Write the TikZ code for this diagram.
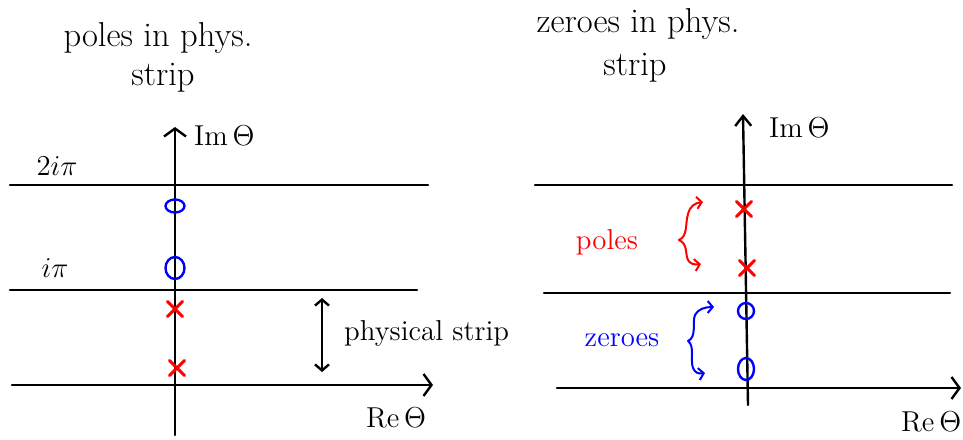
\documentclass[tikz,border=0pt]{standalone}
\usepackage{tikz}
\usetikzlibrary{arrows.meta,shapes.geometric,shapes.misc,positioning}

\begin{document}
\begin{tikzpicture}[x=0.5pt,y=-0.5pt,line width=1.2pt,line cap=round,line join=round,
  axtip/.style={-{Straight Barb[length=4pt,width=11pt,line width=1.2pt]}},
  pole/.style={draw=red,cross out,line width=1.5pt,minimum size=6pt,inner sep=0pt},
  zero/.style={draw=blue,ellipse,line width=1.2pt,inner sep=0pt},
  lbl/.style={inner sep=0pt,font=\Large}]
\useasboundingbox (0,0) rectangle (963,439);
% titles
\node[lbl,font=\LARGE] (ttlL)  at (158,38) {poles in phys.};
\node[lbl,font=\LARGE] (ttlLs) at (163,78) {strip};
\node[lbl,font=\LARGE] (ttlR)  at (638,24) {zeroes in phys.};
\node[lbl,font=\LARGE] (ttlRs) at (635,68) {strip};
% left: the strips, poles in the physical strip
\foreach \xa/\xb/\y in {10/428/185, 10/417/290}{\draw (\xa,\y) -- (\xb,\y);}
\coordinate (reLa) at (12,385); \coordinate (reLb) at (433,385);
\draw[axtip] (reLa) -- (reLb);
\coordinate (imLa) at (175,435); \coordinate (imLb) at (175,127);
\draw[axtip] (imLa) -- (imLb);
\node[lbl,anchor=west] (imL) at (193,136) {$\mathrm{Im}\,\Theta$};
\node[lbl,anchor=west] (reL) at (365,418) {$\mathrm{Re}\,\Theta$};
\node[lbl] (twoipi) at (57,166) {$2i\pi$};
\node[lbl] (ipi) at (55,268) {$i\pi$};
\node[zero,minimum width=9.5pt,minimum height=6.5pt] (zL1) at (175,206) {};
\node[zero,minimum width=9.5pt,minimum height=11pt] (zL2) at (175,268) {};
\node[pole] (pL1) at (175,309) {};
\node[pole] (pL2) at (177,368) {};
\coordinate (stA) at (322,298); \coordinate (stB) at (322,372);
\draw[{Straight Barb[length=3pt,width=7pt]}-{Straight Barb[length=3pt,width=7pt]}] (stA) -- (stB);
\node[lbl,anchor=west] (phys) at (343,333) {physical strip};
% right: zeroes in the physical strip, poles above it
\foreach \xa/\xb/\y in {535/952/185, 544/950/293}{\draw (\xa,\y) -- (\xb,\y);}
\coordinate (reRa) at (557,388); \coordinate (reRb) at (961,388);
\draw[axtip] (reRa) -- (reRb);
\coordinate (imRa) at (748,405); \coordinate (imRb) at (743,114);
\draw[-{Straight Barb[length=5pt,width=8pt,line width=1.2pt]}] (imRa) -- (imRb);
\node[lbl,anchor=west] (imR) at (768,128) {$\mathrm{Im}\,\Theta$};
\node[lbl,anchor=west] (reR) at (900,422) {$\mathrm{Re}\,\Theta$};
\node[pole] (pR1) at (744,209) {};
\node[pole] (pR2) at (747,268) {};
\node[zero,minimum width=8pt,minimum height=8pt] (zR1) at (746,311) {};
\node[zero,minimum width=8pt,minimum height=11pt] (zR2) at (746,369) {};
\node[lbl,red] (polesR) at (607,242) {poles};
\node[lbl,blue] (zeroesR) at (622,340) {zeroes};
\coordinate (brP) at (679,240); \coordinate (brZ) at (688,341);
\draw[red,line width=1pt,-{Straight Barb[length=2.5pt,width=6pt]}] (brP)
  .. controls (688,236) and (685,224) .. (688,214) .. controls (690,206) and (695,203) .. (703,202);
\draw[red,line width=1pt,-{Straight Barb[length=2.5pt,width=6pt]}] (brP)
  .. controls (688,244) and (685,254) .. (688,260) .. controls (690,264) and (695,265) .. (701,264);
\draw[blue,line width=1pt,-{Straight Barb[length=2.5pt,width=6pt]}] (brZ)
  .. controls (697,337) and (692,322) .. (695,315) .. controls (698,309) and (705,307) .. (714,307);
\draw[blue,line width=1pt,-{Straight Barb[length=2.5pt,width=6pt]}] (brZ)
  .. controls (695,346) and (690,360) .. (693,368) .. controls (695,373) and (699,374) .. (705,373);
\end{tikzpicture}
\end{document}
